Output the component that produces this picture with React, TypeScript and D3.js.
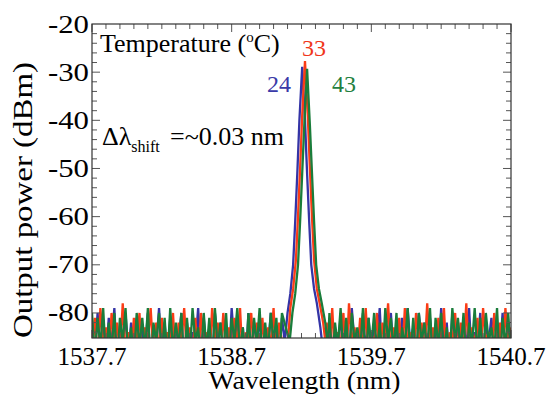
import React, { useEffect, useRef } from "react";
import * as d3 from "d3";

// sampling positions of the OSA trace (nm)
const leftGrid = d3.range(69).map((i) => 1537.7 + i * 0.02);
const rightGrid = d3.range(67).map((i) => 1539.38 + i * 0.02);

// noise floor readings (dBm), left and right of the lasing peak
// (the deep values fall below the bottom of the frame and are clipped)
const blueLeft = [
  -82, -89, -80, -88, -83, -90, -81, -87, -79, -91, -84, -88, -80, -89, -82, -86, -81, -90, -83, -88,
  -80, -91, -84, -87, -79, -89, -82, -90, -81, -88, -83, -86, -80, -91, -82, -89, -84, -87, -79, -90,
  -81, -88, -83, -91, -80, -86, -82, -89, -84, -90, -79, -87, -81, -88, -83, -91, -80, -89, -82, -86,
  -81, -90, -84, -88, -80, -87, -83, -89, -81,
];
const redLeft = [
  -88, -81, -90, -79, -87, -83, -91, -80, -86, -82, -89, -78, -88, -84, -90, -81, -87, -80, -91, -83,
  -86, -79, -89, -82, -88, -81, -90, -84, -87, -80, -91, -82, -86, -79, -89, -83, -88, -81, -90, -80,
  -87, -84, -91, -79, -86, -82, -89, -80, -88, -83, -90, -81, -87, -79, -91, -84, -86, -80, -89, -82,
  -88, -81, -90, -83, -87, -79, -91, -82, -86,
];
const greenLeft = [
  -80, -89, -81, -87, -79, -90, -82, -88, -80, -91, -81, -86, -79, -89, -83, -90, -80, -87, -81, -88,
  -79, -91, -82, -86, -80, -89, -81, -90, -79, -88, -82, -87, -80, -91, -81, -89, -79, -86, -83, -90,
  -80, -88, -81, -91, -79, -87, -82, -89, -80, -90, -81, -86, -79, -88, -83, -91, -80, -89, -81, -87,
  -79, -90, -82, -88, -80, -86, -81, -91, -80,
];
const blueRight = [
  -89, -81, -88, -83, -90, -80, -87, -82, -91, -79, -86, -84, -89, -80, -88, -81, -90, -83, -87, -79,
  -91, -82, -86, -80, -89, -84, -88, -81, -90, -79, -87, -83, -91, -80, -86, -82, -89, -81, -88, -84,
  -90, -79, -87, -82, -91, -80, -86, -83, -89, -81, -88, -79, -90, -84, -87, -80, -91, -82, -86, -81,
  -89, -83, -88, -80, -90, -82, -87,
];
const redRight = [
  -82, -88, -79, -90, -84, -87, -80, -91, -78, -86, -83, -89, -81, -88, -79, -90, -84, -87, -80, -91,
  -82, -86, -78, -89, -83, -88, -81, -90, -79, -87, -84, -91, -80, -86, -82, -89, -78, -88, -83, -90,
  -81, -87, -79, -91, -84, -86, -80, -89, -82, -88, -78, -90, -83, -87, -81, -91, -79, -86, -84, -89,
  -80, -88, -82, -90, -79, -87, -83,
];
const greenRight = [
  -88, -80, -91, -82, -87, -79, -89, -81, -90, -80, -86, -83, -88, -79, -91, -81, -87, -80, -89, -82,
  -90, -79, -86, -81, -88, -80, -91, -83, -87, -79, -89, -81, -90, -80, -86, -82, -88, -79, -91, -81,
  -87, -80, -89, -83, -90, -79, -86, -81, -88, -80, -91, -82, -87, -79, -89, -81, -90, -80, -86, -83,
  -88, -79, -91, -81, -87, -80, -89,
];

// lasing peak for each temperature
const bluePeakWl = [1539.08, 1539.1, 1539.12, 1539.14, 1539.155, 1539.17, 1539.185, 1539.205, 1539.225, 1539.24, 1539.255, 1539.27, 1539.29, 1539.31, 1539.335, 1539.355];
const bluePeakDb = [-86, -80, -76, -70, -61, -51, -40, -28.9, -40, -51, -61, -70, -75, -78, -83, -88];
const redPeakWl = [1539.1, 1539.12, 1539.14, 1539.16, 1539.175, 1539.19, 1539.205, 1539.225, 1539.245, 1539.26, 1539.275, 1539.29, 1539.31, 1539.33, 1539.355, 1539.375];
const redPeakDb = [-87, -79, -75, -69, -60, -50, -39, -27.7, -39, -50, -60, -69, -75, -78, -82, -87];
const greenPeakWl = [1539.115, 1539.135, 1539.155, 1539.175, 1539.19, 1539.205, 1539.22, 1539.24, 1539.26, 1539.275, 1539.29, 1539.305, 1539.325, 1539.345, 1539.37, 1539.39];
const greenPeakDb = [-86, -80, -76, -70, -61, -51, -41, -29.3, -41, -51, -61, -70, -75, -78, -82, -87];

const xTicks = [1537.7, 1538.7, 1539.7, 1540.7];
const yTicks = [-20, -30, -40, -50, -60, -70, -80];

const buildSeries = (left: number[], right: number[], peakWl: number[], peakDb: number[]) => {
  const lo = peakWl[0];
  const hi = peakWl[peakWl.length - 1];
  const noise: [number, number][] = [
    ...leftGrid.map((w, i) => [w, left[i]] as [number, number]),
    ...rightGrid.map((w, i) => [w, right[i]] as [number, number]),
  ].filter(([w]) => w < lo || w > hi);
  const peak = peakWl.map((w, i) => [w, peakDb[i]] as [number, number]);
  return [...noise, ...peak].sort((a, b) => a[0] - b[0]);
};

const series = [
  { color: "#3434a6", points: buildSeries(blueLeft, blueRight, bluePeakWl, bluePeakDb) },
  { color: "#fb3c16", points: buildSeries(redLeft, redRight, redPeakWl, redPeakDb) },
  { color: "#1a7d3b", points: buildSeries(greenLeft, greenRight, greenPeakWl, greenPeakDb) },
];

const FONT = "Liberation Serif";

const App: React.FC = () => {
  const svgRef = useRef<SVGSVGElement>(null);
  const width = 549;
  const height = 399;
  const margin = { top: 24, right: 38, bottom: 61, left: 92 };

  useEffect(() => {
    if (!svgRef.current) return;
    d3.select(svgRef.current).selectAll("*").remove();

    const innerWidth = width - margin.left - margin.right;
    const innerHeight = height - margin.top - margin.bottom;

    const svg = d3
      .select(svgRef.current)
      .attr("width", width)
      .attr("height", height)
      .attr("font-family", FONT)
      .append("g")
      .attr("transform", `translate(${margin.left},${margin.top})`);

    const x = d3.scaleLinear().domain([1537.7, 1540.7]).range([0, innerWidth]);
    const y = d3.scaleLinear().domain([-85.2, -20]).range([innerHeight, 0]);

    svg
      .append("clipPath")
      .attr("id", "plot-clip")
      .append("rect")
      .attr("width", innerWidth)
      .attr("height", innerHeight);

    // traces
    const line = d3
      .line<[number, number]>()
      .x((d) => x(d[0]))
      .y((d) => y(d[1]));

    const traces = svg.append("g").attr("clip-path", "url(#plot-clip)");
    series.forEach((s) => {
      traces
        .append("path")
        .datum(s.points)
        .attr("fill", "none")
        .attr("stroke", s.color)
        .attr("stroke-width", 2.3)
        .attr("d", line);
    });

    // ticks, inward on all four sides
    const minorX = d3.range(31).map((i) => 1537.7 + i * 0.1);
    const minorY = d3.range(-84, -20, 2);
    const ticks = svg.append("g").attr("stroke", "#555").attr("stroke-width", 1);
    minorX.forEach((v, i) => {
      const len = i % 10 === 0 ? 8 : 5;
      ticks.append("line").attr("x1", x(v)).attr("x2", x(v)).attr("y1", innerHeight).attr("y2", innerHeight - len);
      ticks.append("line").attr("x1", x(v)).attr("x2", x(v)).attr("y1", 0).attr("y2", len);
    });
    minorY.forEach((v) => {
      const len = v % 10 === 0 ? 8 : 5;
      ticks.append("line").attr("x1", 0).attr("x2", len).attr("y1", y(v)).attr("y2", y(v));
      ticks.append("line").attr("x1", innerWidth).attr("x2", innerWidth - len).attr("y1", y(v)).attr("y2", y(v));
    });

    svg
      .append("rect")
      .attr("width", innerWidth)
      .attr("height", innerHeight)
      .attr("fill", "none")
      .attr("stroke", "#333")
      .attr("stroke-width", 1.2);

    // tick labels
    svg
      .selectAll(".ylab")
      .data(yTicks)
      .enter()
      .append("text")
      .attr("x", -3)
      .attr("y", (d) => y(d))
      .attr("dy", "0.34em")
      .attr("text-anchor", "end")
      .attr("textLength", 41)
      .attr("lengthAdjust", "spacingAndGlyphs")
      .style("font-size", "25px")
      .text((d) => `${d}`);

    svg
      .selectAll(".xlab")
      .data(xTicks)
      .enter()
      .append("text")
      .attr("x", (d) => x(d))
      .attr("y", innerHeight + 27)
      .attr("text-anchor", "middle")
      .attr("textLength", 69)
      .attr("lengthAdjust", "spacingAndGlyphs")
      .style("font-size", "25px")
      .text((d) => d.toFixed(1));

    // axis titles
    svg
      .append("text")
      .attr("x", innerWidth / 2 + 3)
      .attr("y", innerHeight + 51)
      .attr("text-anchor", "middle")
      .attr("textLength", 192)
      .attr("lengthAdjust", "spacingAndGlyphs")
      .style("font-size", "25px")
      .text("Wavelength (nm)");

    svg
      .append("text")
      .attr("transform", "rotate(-90)")
      .attr("x", -(200 - margin.top))
      .attr("y", -margin.left + 32)
      .attr("text-anchor", "middle")
      .attr("textLength", 276)
      .attr("lengthAdjust", "spacingAndGlyphs")
      .style("font-size", "27px")
      .text("Output power (dBm)");

    // annotations
    const temp = svg
      .append("text")
      .attr("x", 8)
      .attr("y", 28)
      .style("font-size", "26px");
    temp.append("tspan").text("Temperature (");
    temp.append("tspan").attr("dy", -10).style("font-size", "15px").text("o");
    temp.append("tspan").attr("dy", 10).text("C)");

    const labels = [
      { text: "24", color: "#3a3aa8", x: 175, y: 68, anchor: "start" },
      { text: "33", color: "#f0361a", x: 222, y: 32, anchor: "middle" },
      { text: "43", color: "#237f3e", x: 240, y: 68, anchor: "start" },
    ];
    labels.forEach((l) => {
      svg
        .append("text")
        .attr("x", l.x)
        .attr("y", l.y)
        .attr("text-anchor", l.anchor)
        .attr("fill", l.color)
        .style("font-size", "24px")
        .text(l.text);
    });

    const shift = svg
      .append("text")
      .attr("x", 10)
      .attr("y", 121)
      .style("font-size", "26px");
    shift.append("tspan").text("Δλ");
    shift.append("tspan").attr("dy", 7).style("font-size", "16px").text("shift");
    shift.append("tspan").attr("x", 78).attr("dy", -7).text("=~0.03 nm");
  }, []);

  return (
    <div style={{ position: "absolute", left: 0, top: 0, background: "#fff" }}>
      <svg ref={svgRef} style={{ display: "block" }}></svg>
    </div>
  );
};

export default App;
